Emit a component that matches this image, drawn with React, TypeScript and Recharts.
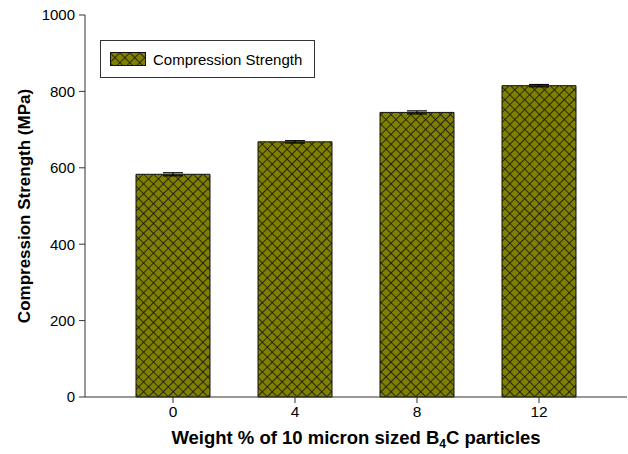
import { BarChart, Bar, XAxis, YAxis, ErrorBar } from "recharts";

const weights = ["0", "4", "8", "12"];
const strength = [583, 668, 745, 815];
const strengthErr = [4, 3, 4, 3];
const yTicks = [0, 200, 400, 600, 800, 1000];

const data = weights.map((w, i) => ({
  weight: w,
  strength: strength[i],
  err: strengthErr[i],
}));

const FONT = "'Liberation Sans', Arial, sans-serif";
const OLIVE = "#7f7f00";

function HatchDefs({ id }: { id: string }) {
  return (
    <pattern
      id={id}
      width="7"
      height="7"
      patternUnits="userSpaceOnUse"
      patternTransform="rotate(45)"
    >
      <rect width="7" height="7" fill={OLIVE} />
      <path d="M0,0 H7 M0,0 V7" stroke="#111" strokeWidth={1.6} />
    </pattern>
  );
}

function XLabel() {
  return (
    <text
      x={356}
      y={444}
      textAnchor="middle"
      fontFamily={FONT}
      fontWeight="bold"
      fontSize={18.5}
      fill="#000"
    >
      Weight % of 10 micron sized B
      <tspan dy={4} fontSize={12}>4</tspan>
      <tspan dy={-4}>C particles</tspan>
    </text>
  );
}

function LegendBox() {
  return (
    <div
      style={{
        position: "absolute",
        left: 100,
        top: 40,
        border: "1px solid #333",
        width: 215,
        height: 38,
        display: "flex",
        alignItems: "center",
        boxSizing: "border-box",
        background: "#fff",
        fontFamily: FONT,
        fontSize: 15,
        color: "#000",
      }}
    >
      <svg width={36} height={14} style={{ marginLeft: 9, marginRight: 7 }}>
        <defs>
          <HatchDefs id="hatchLegend" />
        </defs>
        <rect x={0.5} y={0.5} width={35} height={13} fill="url(#hatchLegend)" stroke="#111" />
      </svg>
      <span>Compression Strength</span>
    </div>
  );
}

export default function App() {
  document.body.style.margin = "0";
  return (
    <div style={{ width: 628, height: 454, background: "#fff", position: "relative" }}>
      <BarChart
        width={628}
        height={454}
        data={data}
        margin={{ top: 15, right: 1, left: 0, bottom: 0 }}
        barCategoryGap={24}
      >
        <defs>
          <HatchDefs id="hatchBar" />
        </defs>
        <XAxis
          dataKey="weight"
          height={57}
          padding={{ left: 27, right: 27 }}
          stroke="#333"
          tickSize={6}
          tick={{ fill: "#000", fontSize: 15.5, fontFamily: FONT }}
          tickMargin={3}
          label={<XLabel />}
        />
        <XAxis
          xAxisId="top"
          dataKey="weight"
          orientation="top"
          height={0}
          tick={false}
          tickLine={false}
          stroke="#333"
        />
        <YAxis
          width={85}
          domain={[0, 1000]}
          ticks={yTicks}
          stroke="#333"
          tickSize={6}
          tickMargin={4}
          tick={{ fill: "#000", fontSize: 15, fontFamily: FONT }}
          label={{
            value: "Compression Strength (MPa)",
            angle: -90,
            position: "insideLeft",
            offset: 0,
            dx: 24,
            style: {
              textAnchor: "middle",
              fontFamily: FONT,
              fontWeight: "bold",
              fontSize: 17,
              fill: "#000",
            },
          }}
        />
        <YAxis
          yAxisId="right"
          orientation="right"
          width={0}
          domain={[0, 1000]}
          tick={false}
          tickLine={false}
          stroke="#ccc"
        />
        <Bar
          dataKey="strength"
          name="Compression Strength"
          fill="url(#hatchBar)"
          stroke="#111"
          strokeWidth={1}
          isAnimationActive={false}
        >
          <ErrorBar dataKey="err" width={10} stroke="#000" strokeWidth={1.2} direction="y" />
        </Bar>
      </BarChart>
      <LegendBox />
    </div>
  );
}
